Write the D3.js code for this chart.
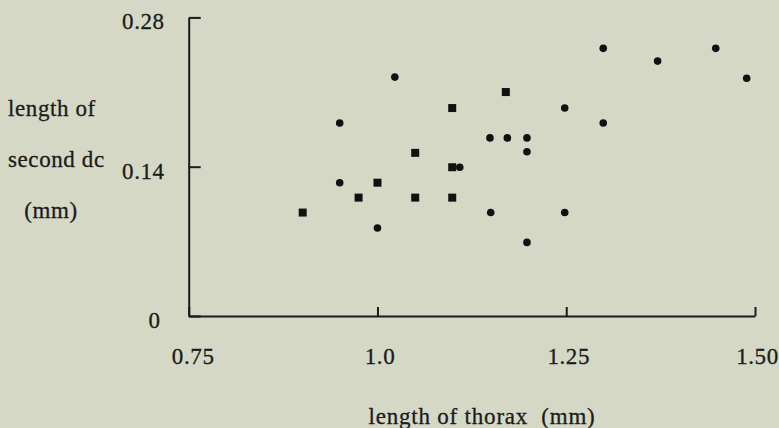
<!DOCTYPE html>
<html>
<head>
<meta charset="utf-8">
<script src="https://cdn.jsdelivr.net/npm/d3@7"></script>
<style>
body{margin:0;background:#d6d8c6;}
#wrapper svg{display:block;}
text{font-family:"Liberation Serif","Times New Roman",serif;fill:#1b1b1b;stroke:#1b1b1b;stroke-width:0.3px;}
</style>
</head>
<body>
<div id="wrapper"></div>
<script>
// thorax length (x) vs second dc length (y), two groups
var circleX = [1.023,0.95,0.95,1.0,1.109,1.299,1.371,1.448,1.489,1.248,1.299,1.149,1.172,1.198,1.198,1.15,1.248,1.198];
var circleY = [0.224,0.181,0.125,0.0825,0.1395,0.251,0.239,0.251,0.223,0.195,0.181,0.167,0.167,0.167,0.154,0.097,0.097,0.069];
var squareX = [1.099,1.05,1.099,1.0,0.975,1.05,1.099,0.901,1.17];
var squareY = [0.195,0.153,0.1395,0.125,0.111,0.111,0.111,0.097,0.21];

var xTicks = [0.75,1.0,1.25,1.5];
var xTickLabels = ['0.75','1.0','1.25','1.50'];
var yTicks = [0,0.14,0.28];
var yTickLabels = ['0','0.14','0.28'];
var yTitle = ['length of','second dc','(mm)'];
var xTitle = 'length of thorax  (mm)';

function scatter(){
	var W = 779, H = 428;
	var m = {top:17.4, right:24, bottom:112, left:188.7};

	var xscale = d3.scaleLinear()
					.domain([0.75,1.5])
					.range([m.left, W-m.right]);

	var yscale = d3.scaleLinear()
					.domain([0,0.28])
					.range([H-m.bottom, m.top]);

	var canvas = d3.select('#wrapper')
					.append('svg')
					.attr('width',W)
					.attr('height',H);

	canvas.append('rect')
		  .attr('width',W)
		  .attr('height',H)
		  .style('fill','#d6d8c6');

	var xAxis = d3.axisBottom(xscale)
				.tickValues(xTicks)
				.tickSizeInner(-9)
				.tickSizeOuter(0)
				.tickPadding(32)
				.tickFormat(function(d,i){ return xTickLabels[i]; });

	var yAxis = d3.axisLeft(yscale)
				.tickValues(yTicks)
				.tickSizeInner(-12)
				.tickSizeOuter(0)
				.tickPadding(24)
				.tickFormat(function(d,i){ return yTickLabels[i]; });

	var x_xis = canvas.append('g')
					  .attr('transform','translate(0,'+(H-m.bottom)+')')
					  .call(xAxis);

	var y_xis = canvas.append('g')
					  .attr('transform','translate('+m.left+',0)')
					  .call(yAxis);

	canvas.selectAll('.domain, .tick line')
		  .style('stroke','#1b1b1b')
		  .style('stroke-width','2px');

	x_xis.selectAll('text')
		 .attr('dx', function(d,i){ return i===0 ? 4 : 2; })
		 .style('font-size','23px')
		 .style('letter-spacing','0.6px')
		 .style('font-family','"Liberation Serif",serif')
		 .style('fill','#1b1b1b');

	y_xis.selectAll('text')
		 .attr('dy','0.5em')
		 .attr('dx', function(d,i){ return i===0 ? -4 : 0; })
		 .style('font-size','23px')
		 .style('letter-spacing','0.6px')
		 .style('font-family','"Liberation Serif",serif')
		 .style('fill','#1b1b1b');

	// y title, three lines
	canvas.append('g')
		  .selectAll('text')
		  .data(yTitle)
		  .enter()
		  .append('text')
		  .attr('x', function(d,i){ return i===2 ? 51 : 8; })
		  .attr('y', function(d,i){ return 116 + i*51; })
		  .attr('text-anchor', function(d,i){ return i===2 ? 'middle' : 'start'; })
		  .style('font-size','23px')
		  .style('letter-spacing','0.6px')
		  .text(function(d){ return d; });

	canvas.append('text')
		  .attr('x', 482)
		  .attr('y', 424)
		  .attr('text-anchor','middle')
		  .style('font-size','23px')
		  .style('letter-spacing','0.8px')
		  .style('white-space','pre')
		  .text(xTitle);

	var dots = canvas.append('g')
					 .selectAll('circle')
					 .data(circleX)
					 .enter()
					 .append('circle')
					 .attr('cx', function(d){ return xscale(d); })
					 .attr('cy', function(d,i){ return yscale(circleY[i]); })
					 .attr('r', 3.8)
					 .style('fill','#111');

	var squares = canvas.append('g')
						.selectAll('rect')
						.data(squareX)
						.enter()
						.append('rect')
						.attr('x', function(d){ return xscale(d)-4; })
						.attr('y', function(d,i){ return yscale(squareY[i])-4; })
						.attr('width', 8)
						.attr('height', 8)
						.style('fill','#111');
}
scatter();
</script>
</body>
</html>
